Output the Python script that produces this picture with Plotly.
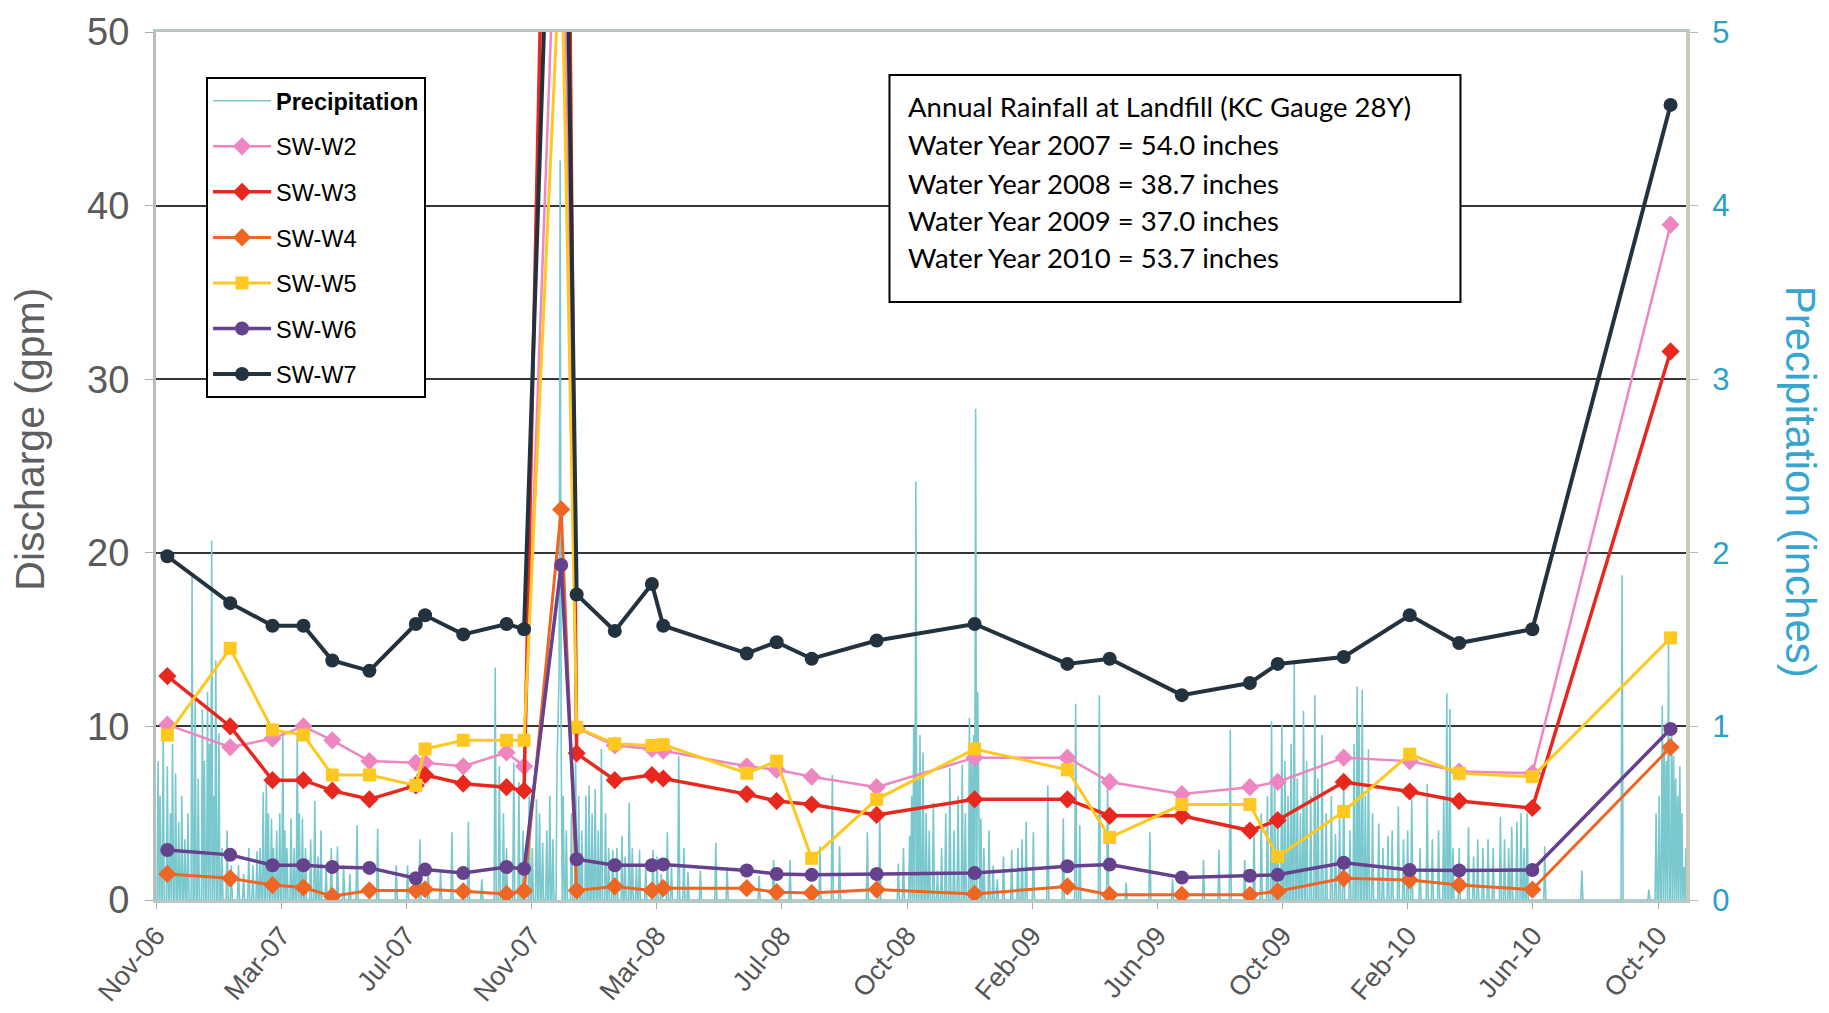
import pandas as pd
import plotly.graph_objects as go

# ---------------- data ----------------
sample_dates = [
    "2006-11-12", "2007-01-12", "2007-02-22", "2007-03-24", "2007-04-21", "2007-05-27",
    "2007-07-11", "2007-07-20", "2007-08-26", "2007-10-07", "2007-10-24", "2007-11-29",
    "2007-12-14", "2008-01-20", "2008-02-25", "2008-03-07", "2008-05-27", "2008-06-25",
    "2008-07-29", "2008-09-30", "2009-01-03", "2009-04-03", "2009-05-14", "2009-07-23",
    "2009-09-27", "2009-10-24", "2009-12-27", "2010-03-01", "2010-04-18", "2010-06-28",
    "2010-11-09",
]
sw_w2 = [10.1, 8.8, 9.3, 10.0, 9.2, 8.0, 7.9, 7.9, 7.7, 8.5, 7.7, 66, 9.9, 8.9, 8.7, 8.6,
         7.7, 7.5, 7.1, 6.5, 8.2, 8.2, 6.8, 6.1, 6.5, 6.8, 8.2, 8.0, 7.4, 7.3, 38.9]
sw_w3 = [12.9, 10.0, 6.9, 6.9, 6.3, 5.8, 6.6, 7.2, 6.7, 6.5, 6.3, 108, 8.45, 6.9, 7.2, 7.0,
         6.1, 5.7, 5.5, 4.9, 5.8, 5.8, 4.85, 4.85, 4.0, 4.6, 6.8, 6.25, 5.7, 5.3, 31.6]
sw_w4 = [1.5, 1.25, 0.86, 0.72, 0.22, 0.55, 0.55, 0.62, 0.5, 0.35, 0.52, 22.5, 0.55, 0.78, 0.55, 0.68,
         0.68, 0.45, 0.4, 0.6, 0.35, 0.78, 0.3, 0.3, 0.3, 0.5, 1.25, 1.15, 0.87, 0.6, 8.8]
sw_w5 = [9.5, 14.5, 9.8, 9.5, 7.2, 7.2, 6.6, 8.7, 9.2, 9.2, 9.2, 56, 9.95, 9.0, 8.9, 8.95,
         7.3, 8.0, 2.4, 5.8, 8.7, 7.5, 3.6, 5.5, 5.5, 2.5, 5.1, 8.4, 7.3, 7.1, 15.1]
sw_w6 = [2.88, 2.6, 2.0, 2.0, 1.9, 1.85, 1.25, 1.75, 1.55, 1.9, 1.8, 19.3, 2.35, 2.0, 2.0, 2.05,
         1.7, 1.5, 1.45, 1.5, 1.55, 1.94, 2.04, 1.3, 1.4, 1.45, 2.15, 1.73, 1.7, 1.73, 9.85]
sw_w7 = [19.8, 17.1, 15.8, 15.8, 13.8, 13.2, 15.9, 16.4, 15.3, 15.9, 15.6, 80, 17.6, 15.5, 18.2, 15.8,
         14.2, 14.85, 13.9, 14.95, 15.9, 13.6, 13.9, 11.8, 12.5, 13.6, 14.0, 16.4, 14.8, 15.6, 45.8]

# daily precipitation: rainy days (days after 2006-11-01) and inches; all other days are dry (0)
storm_day_offsets = [
    7, 11, 19, 35, 38, 45, 50, 54, 58, 61, 69, 80, 90, 98, 104, 107, 112, 117, 123, 127,
    131, 137, 142, 154, 160, 176, 195, 215, 233, 244, 256, 264, 276, 287, 303, 316, 329, 333,
    347, 352, 369, 375, 385, 392, 407, 417, 420, 426, 432, 443, 452, 459, 469, 482, 496, 507,
    516, 528, 543, 554, 585, 599, 615, 644, 656, 663, 690, 702, 720, 731, 737, 741, 744, 754,
    758, 770, 782, 789, 793, 795, 800, 816, 830, 844, 851, 865, 880, 892, 896, 915, 923, 941,
    964, 986, 1016, 1031, 1042, 1056, 1082, 1092, 1104, 1113, 1124, 1131, 1144, 1165, 1170,
    1176, 1186, 1195, 1205, 1218, 1233, 1252, 1255, 1273, 1282, 1292, 1304, 1315, 1324, 1330,
    1347, 1383, 1422, 1448, 1461, 1467, 1472, 1478, 1482,
]
storm_inches = [
    0.96, 0.77, 0.73, 1.86, 1.15, 1.1, 1.2, 2.07, 1.38, 0.96, 0.4, 0.2, 0.3, 0.28, 0.62, 0.68,
    0.47, 0.4, 0.96, 0.3, 0.47, 0.96, 0.47, 0.57, 0.4, 0.31, 0.43, 0.41, 0.2, 0.2, 0.35, 0.2,
    0.16, 0.39, 0.45, 0.12, 1.34, 0.77, 0.79, 0.68, 0.58, 0.33, 0.35, 4.26, 0.85, 0.6, 0.66,
    0.64, 0.87, 0.29, 0.37, 0.56, 0.29, 0.29, 0.39, 0.83, 0.16, 0.17, 0.33, 0.19, 0.14, 0.23,
    0.23, 0.31, 0.72, 0.31, 0.39, 0.52, 0.21, 0.37, 2.41, 0.95, 0.85, 0.56, 0.17, 0.76, 0.78,
    1.05, 0.95, 2.83, 0.47, 0.12, 0.29, 0.45, 0.39, 0.66, 0.47, 1.13, 0.43, 1.18, 0.68, 0.1,
    0.39, 0.12, 0.23, 0.29, 0.98, 0.23, 1.03, 1.01, 1.36, 1.09, 1.18, 0.95, 0.38, 1.23, 1.21,
    0.87, 0.44, 0.37, 0.54, 0.58, 0.67, 1.19, 1.1, 0.42, 0.35, 0.35, 0.48, 0.42, 0.5, 0.5,
    0.31, 0.17, 1.87, 0.06, 1.12, 1.5, 0.83, 0.77, 0.19,
]
other_wet_day_offsets = [
    2, 4, 14, 16, 22, 25, 28, 31, 41, 47, 52, 56, 64, 73, 85, 94, 101, 109, 114, 120, 125,
    134, 139, 145, 150, 157, 165, 170, 182, 188,
    337, 340, 356, 362, 365, 372, 379, 382, 389, 390, 391, 393, 395, 398, 403, 410, 413, 423,
    429, 436, 439, 447, 455, 462, 466, 475, 486, 490, 500, 512,
    725, 733, 735, 739, 747, 750, 762, 766, 774, 778, 785, 791, 797, 798, 803, 808, 812, 822,
    836, 840,
    1065, 1072, 1078, 1085, 1088, 1095, 1098, 1101, 1107, 1110, 1116, 1120, 1127, 1135, 1140,
    1148, 1152, 1158, 1162, 1167, 1173, 1180, 1190, 1199, 1210, 1214, 1226, 1238, 1244, 1249,
    1258, 1264, 1278, 1287, 1297, 1308, 1312, 1320, 1327,
    1455, 1458, 1463, 1465, 1470, 1474, 1476, 1480, 1484,
]
other_wet_inches = [
    0.8, 0.6, 0.5, 0.9, 0.45, 0.6, 0.35, 0.5, 0.7, 0.8, 0.9, 0.6, 0.3, 0.2, 0.15, 0.2, 0.3,
    0.5, 0.3, 0.5, 0.4, 0.3, 0.5, 0.3, 0.35, 0.25, 0.2, 0.3, 0.2, 0.15,
    0.5, 0.3, 0.4, 0.6, 0.3, 0.5, 0.4, 0.6, 0.8, 1.0, 1.3, 0.9, 0.6, 0.4, 0.5, 0.6, 0.4, 0.5,
    0.4, 0.5, 0.3, 0.3, 0.25, 0.3, 0.2, 0.2, 0.25, 0.15, 0.2, 0.3,
    0.3, 0.6, 1.0, 0.7, 0.5, 0.4, 0.3, 0.5, 0.4, 0.6, 0.5, 0.8, 1.2, 0.7, 0.3, 0.4, 0.2, 0.25,
    0.3, 0.35,
    0.4, 0.5, 0.6, 0.7, 0.5, 0.8, 0.6, 0.9, 0.7, 0.5, 0.8, 0.6, 0.7, 0.5, 0.6,
    0.5, 0.7, 0.4, 0.9, 1.0, 0.6, 0.5, 0.3, 0.4, 0.35, 0.4, 0.3, 0.35, 0.4, 0.6,
    0.3, 0.3, 0.25, 0.3, 0.3, 0.35, 0.3, 0.45, 0.3,
    0.5, 0.6, 0.9, 0.8, 1.0, 0.7, 0.6, 0.5, 0.3,
]

x_tick_labels = ["Nov-06", "Mar-07", "Jul-07", "Nov-07", "Mar-08", "Jul-08", "Oct-08",
                 "Feb-09", "Jun-09", "Oct-09", "Feb-10", "Jun-10", "Oct-10"]

box_lines = [
    "Annual Rainfall at Landfill (KC Gauge 28Y)",
    "Water Year 2007 = 54.0 inches",
    "Water Year 2008 = 38.7 inches",
    "Water Year 2009 = 37.0 inches",
    "Water Year 2010 = 53.7 inches",
]

# ---------------- build ----------------
start = pd.Timestamp("2006-11-01")
end = pd.Timestamp("2010-11-24")
days = pd.date_range(start, end, freq="D")
daily = [0.0] * len(days)
for d, v in zip(other_wet_day_offsets + storm_day_offsets, other_wet_inches + storm_inches):
    daily[d] = v

tick_step = (pd.Timestamp("2010-10-28") - start).days / (len(x_tick_labels) - 1)
tickvals = [start + pd.Timedelta(days=tick_step * i) for i in range(len(x_tick_labels))]

PRECIP = "#78C8CE"
series = [
    ("SW-W2", sw_w2, "#EE86C2", "diamond", 2.5, 14),
    ("SW-W3", sw_w3, "#E8281E", "diamond", 3.5, 14),
    ("SW-W4", sw_w4, "#EE6524", "diamond", 3, 14),
    ("SW-W5", sw_w5, "#FFC820", "square", 3, 13),
    ("SW-W6", sw_w6, "#66418E", "circle", 3.5, 14),
    ("SW-W7", sw_w7, "#22333F", "circle", 4, 14),
]

fig = go.Figure()
fig.add_trace(go.Scatter(
    x=days, y=daily, mode="lines", name="<b>Precipitation</b>", yaxis="y",
    line=dict(color=PRECIP, width=1.6), legendgroup="p",
))
for name, vals, color, sym, lw, ms in series:
    fig.add_trace(go.Scatter(
        x=pd.to_datetime(sample_dates), y=vals, mode="lines+markers", name=name, yaxis="y2",
        line=dict(color=color, width=lw),
        marker=dict(symbol=sym, size=ms, color=color),
        legendgroup=name,
    ))

AX = "Liberation Sans, Arial, sans-serif"
fig.update_layout(
    width=1829, height=1013,
    margin=dict(l=148, r=151, t=24, b=121, autoexpand=False),
    paper_bgcolor="white", plot_bgcolor="white",
    font=dict(family=AX, color="#555555"),
    showlegend=True,
    legend=dict(
        x=0.0327, y=0.9482, xanchor="left", yanchor="top",
        bgcolor="white", bordercolor="black", borderwidth=2,
        font=dict(family=AX, size=23.5, color="black"),
        itemwidth=58, tracegroupgap=12,
    ),
    xaxis=dict(
        type="date", range=[start, end], tickvals=tickvals, ticktext=x_tick_labels,
        tickangle=-50, tickfont=dict(size=27, color="#555555"), automargin=False,
        ticklabeloverflow="allow",
        showline=True, linecolor="#BAC8C4", linewidth=3, mirror=True,
        ticks="outside", ticklen=6, tickcolor="#AAAAAA", showgrid=False, zeroline=False,
    ),
    yaxis=dict(
        side="right", range=[0, 5], dtick=1, showgrid=False, zeroline=False, automargin=False,
        ticklabeloverflow="allow",
        showline=True, linecolor="#C8C9BA", linewidth=4,
        ticks="outside", ticklen=8, tickcolor="#BBBBBB",
        tickfont=dict(size=31, color="#2AA0C8"), ticklabelstandoff=8,
    ),
    yaxis2=dict(
        overlaying="y", side="left", range=[0, 50], dtick=10, automargin=False,
        ticklabeloverflow="allow",
        showgrid=True, gridcolor="#353535", gridwidth=2, zeroline=False,
        showline=True, linecolor="#B5BFB5", linewidth=3,
        ticks="outside", ticklen=8, tickcolor="#AAAAAA",
        tickfont=dict(size=38, color="#5A5A5A"), ticklabelstandoff=8,
    ),
)

# annotation box
fig.add_shape(type="rect", xref="paper", yref="paper", x0=0.4794, x1=0.8526, y0=0.6889, y1=0.9505,
              line=dict(color="black", width=2), fillcolor="white", layer="above")
line_y = [0.9147, 0.8703, 0.8257, 0.7831, 0.7404]
for txt, yy in zip(box_lines, line_y):
    fig.add_annotation(text=txt, xref="paper", yref="paper", x=0.490, y=yy,
                       xanchor="left", yanchor="middle", showarrow=False,
                       font=dict(family="Lato, Open Sans, sans-serif", size=27.5, color="black"))

# axis titles
fig.add_annotation(text="Discharge (gpm)", xref="paper", yref="paper", x=-0.082, y=0.531,
                   textangle=-90, showarrow=False, xanchor="center", yanchor="middle",
                   font=dict(family=AX, size=41, color="#5F5F5F"))
fig.add_annotation(text="Precipitation (inches)", xref="paper", yref="paper", x=1.0745, y=0.482,
                   textangle=90, showarrow=False, xanchor="center", yanchor="middle",
                   font=dict(family=AX, size=42, color="#36A6D0"))

fig.write_html("out.html")
